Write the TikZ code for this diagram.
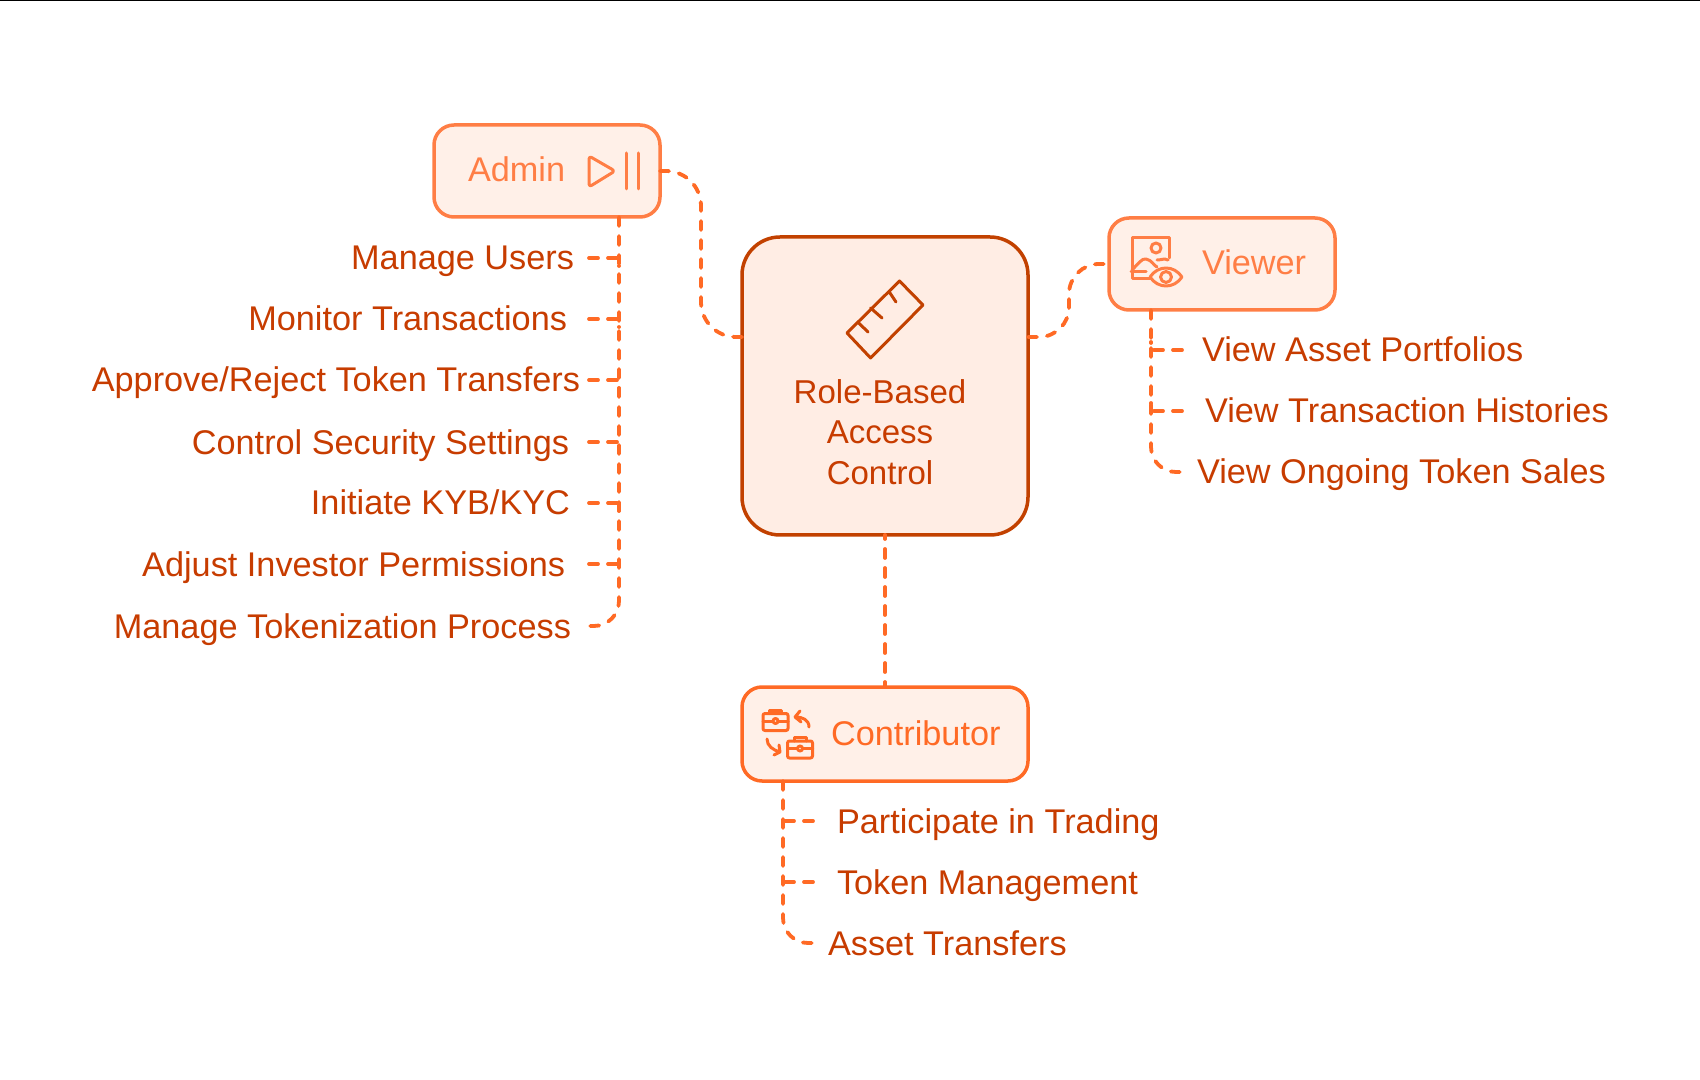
\documentclass[tikz,border=0pt]{standalone}
\usepackage{fontspec}
\setmainfont{Liberation Sans}
\usepackage{tikz}
\usetikzlibrary{positioning}
\definecolor{rbacline}{HTML}{C24100}
\definecolor{rbacfill}{HTML}{FFEDE4}
\definecolor{softline}{HTML}{FF7E45}
\definecolor{softfill}{HTML}{FFF0E8}
\definecolor{hardline}{HTML}{FF6A25}
\definecolor{tasktext}{HTML}{C73C00}

\begin{document}
\begin{tikzpicture}[
	main/.style={rectangle, draw=rbacline, fill=rbacfill, line width=.035cm, rounded corners=.38cm, minimum width=2.64cm, minimum height=2.98cm, inner sep=0, outer sep=0},
	role/.style={rectangle, draw=softline, fill=softfill, line width=.035cm, rounded corners=.2cm, minimum width=2.26cm, minimum height=.92cm, inner sep=0, outer sep=0},
	task/.style={inner sep=0, outer sep=0, text=tasktext, text height=.32cm, text depth=.08cm, font=\fontsize{9.75}{11}\selectfont},
	rolelabel/.style={inner sep=0, outer sep=0, text height=.32cm, text depth=.1cm, font=\fontsize{9.75}{11}\selectfont},
	link/.style={draw=hardline, line width=.038cm, line cap=round, dash pattern=on .09cm off .1cm},
	icon/.style={line width=.03cm, line cap=round, line join=round},
	briefcase/.pic={
		\draw [icon, rounded corners=.02cm] (-.125,-.085) rectangle (.125,.085);
		\draw [icon] (-.125,.01)--(-.03,.01) (.03,.01)--(.125,.01);
		\draw [icon] (-.06,.085)--(-.06,.12)--(.06,.12)--(.06,.085);
		\draw [icon] (0,.01) circle (.025);
	}
	]
	\useasboundingbox (0,0) rectangle (17,-10.8);
	\fill [black] (0,0) rectangle (17,-.012);

	\node (rbac) [main, minimum width=2.86cm] at (8.85,-3.86) {};
	\node (rbaclabel) [align=center, inner sep=0, text=tasktext, font=\fontsize{9.4}{11.6}\selectfont] at (8.8,-4.32) {Role-Based\\Access\\Control};

	\node (admin) [role, above left=.2cm and .82cm of rbac] {};
	\node (adminlabel) [rolelabel, text=softline, right=.34cm of admin.west] {Admin};

	\node (viewer) [role, above right=-.73cm and .81cm of rbac] {};
	\node (viewerlabel) [rolelabel, text=softline, right=.93cm of viewer.west] {Viewer};

	\node (contributor) [role, draw=hardline, minimum width=2.86cm, minimum height=.94cm, below=1.52cm of rbac] {};
	\node (contributorlabel) [rolelabel, text=hardline, right=.89cm of contributor.west] {Contributor};

		\coordinate [below left=.41cm and .41cm of admin.south east] (aux1);
		\coordinate [below=.61cm of aux1] (aux2);
		\coordinate [below=.61cm of aux2] (aux3);
		\coordinate [below=.62cm of aux3] (aux4);
		\coordinate [below=.61cm of aux4] (aux5);
		\coordinate [below=.61cm of aux5] (aux6);
		\coordinate [below=.62cm of aux6] (aux7);
		\node (users) [task, left=.45cm of aux1] {Manage Users};
		\node (transactions) [task, left=.52cm of aux2] {Monitor Transactions};
		\node (transfers) [task, left=.39cm of aux3] {Approve/Reject Token Transfers};
		\node (security) [task, left=.5cm of aux4] {Control Security Settings};
		\node (kyc) [task, left=.49cm of aux5] {Initiate KYB/KYC};
		\node (permissions) [task, left=.54cm of aux6] {Adjust Investor Permissions};
		\node (tokenization) [task, left=.48cm of aux7] {Manage Tokenization Process};

		\coordinate [below right=.4cm and .42cm of viewer.south west] (aux8);
		\coordinate [below=.61cm of aux8] (aux9);
		\coordinate [below=.61cm of aux9] (aux10);
		\node (portfolios) [task, right=.51cm of aux8] {View Asset Portfolios};
		\node (histories) [task, right=.54cm of aux9] {View Transaction Histories};
		\node (sales) [task, right=.46cm of aux10] {View Ongoing Token Sales};

		\coordinate [below right=.4cm and .41cm of contributor.south west] (aux11);
		\coordinate [below=.61cm of aux11] (aux12);
		\coordinate [below=.61cm of aux12] (aux13);
		\node (trading) [task, right=.54cm of aux11] {Participate in Trading};
		\node (management) [task, right=.54cm of aux12] {Token Management};
		\node (assets) [task, right=.45cm of aux13] {Asset Transfers};

	\draw [link, rounded corners=.35cm] (admin.east)--++(.41,0) |- ([yshift=.49cm]rbac.west);
	\draw [link, rounded corners=.3cm] ([yshift=.49cm]rbac.east)--++(.41,0) |- (viewer.west);
	\draw [link, dash phase=.05cm] (rbac.south)--(contributor.north);

	\draw [link, rounded corners=.25cm, shorten >=.18cm] (admin.south -| aux7) |- (tokenization.east);
	\draw [link, shorten <=.15cm] (users.east)--(aux1)--++(0,-.08);
	\draw [link, shorten <=.22cm] (transactions.east)--(aux2)--++(0,-.08);
	\draw [link, shorten <=.09cm] (transfers.east)--(aux3)--++(0,-.08);
	\draw [link, shorten <=.2cm] (security.east)--(aux4)--++(0,-.08);
	\draw [link, shorten <=.19cm] (kyc.east)--(aux5)--++(0,-.08);
	\draw [link, shorten <=.24cm] (permissions.east)--(aux6)--++(0,-.08);

	\draw [link, rounded corners=.25cm, shorten >=.13cm] (viewer.south -| aux10) |- (sales.west);
	\draw [link, shorten <=.2cm] (portfolios.west)--(aux8)--++(0,.08);
	\draw [link, shorten <=.23cm] (histories.west)--(aux9)--++(0,.08);

	\draw [link, rounded corners=.25cm, shorten >=.15cm] (contributor.south -| aux13) |- (assets.west);
	\draw [link, shorten <=.24cm] (trading.west)--(aux11)--++(0,.08);
	\draw [link, shorten <=.24cm] (management.west)--(aux12)--++(0,.08);

	% ruler
	\draw [icon, draw=rbacline] (8.995,-2.81)--(9.23,-3.05)--(8.706,-3.58)--(8.47,-3.33)--cycle;
	\draw [icon, draw=rbacline] (8.9,-2.93)--(8.96,-3.02) (8.706,-3.08)--(8.82,-3.18) (8.587,-3.23)--(8.68,-3.32);

	% play and pause
	\draw [icon, draw=softline, rounded corners=.03cm] (5.89,-1.56)--(6.15,-1.71)--(5.89,-1.87)--cycle;
	\draw [icon, draw=softline] (6.26,-1.53)--(6.26,-1.89) (6.38,-1.53)--(6.38,-1.89);

	% picture and eye
	\draw [icon, draw=softline] (11.69,-2.58)--(11.69,-2.38)--(11.32,-2.38)--(11.32,-2.79)--(11.5,-2.79);
	\draw [icon, draw=softline] (11.56,-2.48) circle (.05);
	\draw [icon, draw=softline] (11.32,-2.7) .. controls (11.38,-2.64) and (11.42,-2.58) .. (11.46,-2.59) .. controls (11.52,-2.6) and (11.54,-2.66) .. (11.57,-2.67);
	\draw [icon, draw=softline] (11.57,-2.6) .. controls (11.62,-2.6) and (11.64,-2.58) .. (11.68,-2.6);
	\draw [icon, draw=softline] (11.31,-2.72)--(11.46,-2.72);
	\draw [icon, draw=softline, fill=softfill] (11.5,-2.77) .. controls (11.58,-2.65) and (11.74,-2.65) .. (11.82,-2.77) .. controls (11.74,-2.89) and (11.58,-2.89) .. cycle;
	\draw [icon, draw=softline] (11.66,-2.77) circle (.055);

	% swapped briefcases
	\pic [draw=hardline, hardline] at (7.755,-7.22) {briefcase};
	\pic [draw=hardline, hardline] at (8,-7.495) {briefcase};
	\draw [icon, draw=hardline] (8.09,-7.27) .. controls (8.09,-7.2) and (8.03,-7.17) .. (7.95,-7.17) (8,-7.11)--(7.95,-7.17)--(8.01,-7.22);
	\draw [icon, draw=hardline] (7.67,-7.39) .. controls (7.67,-7.46) and (7.73,-7.5) .. (7.8,-7.52) (7.74,-7.55)--(7.8,-7.52)--(7.79,-7.45);
\end{tikzpicture}
\end{document}
